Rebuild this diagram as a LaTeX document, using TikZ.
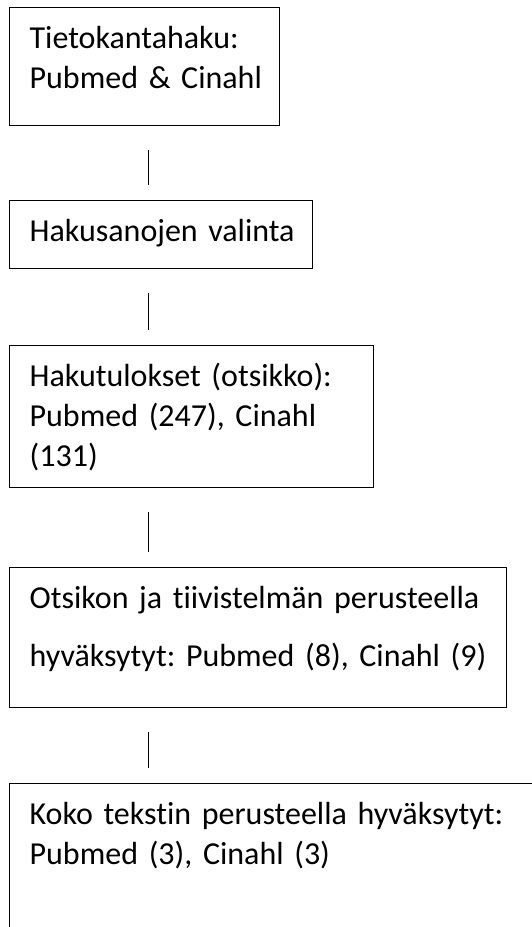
\documentclass[tikz,border=0pt]{standalone}
\usepackage{fontspec}
\setmainfont{Carlito}[Ligatures={NoCommon,NoRare}]
\frenchspacing

\newcommand{\topgap}{\rule{0pt}{41pt}}
\newcommand{\botgap}[1]{\rule[-#1]{0pt}{#1}}

\begin{document}
\begin{tikzpicture}[x=1pt,y=-1pt,font=\fontsize{32pt}{40pt}\selectfont]
        \tikzset{stage/.style={draw,line width=1.3pt,anchor=north west,inner xsep=20pt,inner ysep=0pt,text width=#1,align=left}}
        \tikzset{link/.style={line width=1.8pt,shorten <=24pt,shorten >=15pt}}
        \useasboundingbox (0,0) rectangle (532,927);
        \clip (0,0) rectangle (532,927);
        \node[stage=230pt](search) at (9,7) {\topgap\mbox{Tietokantahaku:}\\\mbox{Pubmed \& Cinahl}\botgap{37pt}};
        \node[stage=263pt](terms) at (9,200) {\topgap\mbox{Hakusanojen valinta}\botgap{27pt}};
        \node[stage=324pt](results) at (9,345) {\topgap\mbox{Hakutulokset (otsikko):}\\\makebox[324pt][s]{Pubmed (247), Cinahl}\\(131)\botgap{21pt}};
        \node[stage=457pt](screened) at (9,567) {\topgap\makebox[457pt][s]{Otsikon ja tiivistelmän perusteella}\\[18pt]\mbox{hyväksytyt: Pubmed (8), Cinahl (9)}\botgap{41pt}};
        \node[stage=511pt](included) at (9,783) {\topgap\mbox{Koko tekstin perusteella hyväksytyt:}\\\mbox{Pubmed (3), Cinahl (3)}\botgap{150pt}};
        % connectors
        \draw[link] ([xshift=139.5pt]search.south west) -- ([xshift=139.5pt]terms.north west);
        \draw[link] ([xshift=139.5pt]terms.south west) -- ([xshift=139.5pt]results.north west);
        \draw[link] ([xshift=139.5pt]results.south west) -- ([xshift=139.5pt]screened.north west);
        \draw[link] ([xshift=139.5pt]screened.south west) -- ([xshift=139.5pt]included.north west);
\end{tikzpicture}
\end{document}
